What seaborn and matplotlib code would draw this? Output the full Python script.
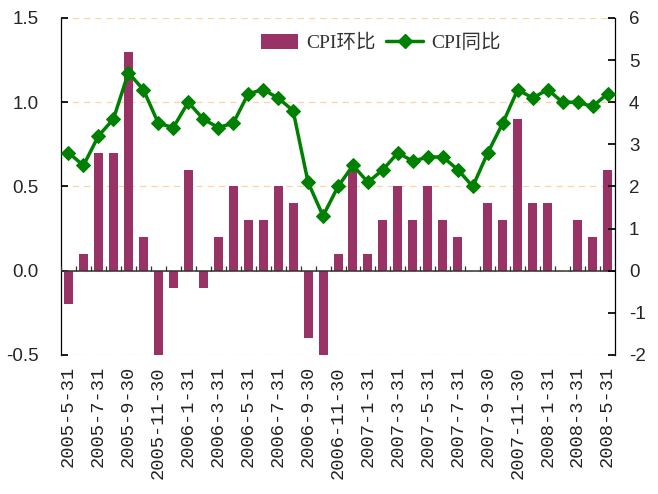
import matplotlib
matplotlib.use('Agg')
import matplotlib.pyplot as plt
import numpy as np
import pandas as pd
import seaborn as sns
from matplotlib.lines import Line2D
from matplotlib.patches import Patch

# 月份: 2005-05 ~ 2008-05 (月末)
months = pd.date_range('2005-05-31', periods=37, freq='ME')

# CPI环比 (左轴, %)
cpi_mom = [-0.2, 0.1, 0.7, 0.7, 1.3, 0.2, -0.5, -0.1,
           0.6, -0.1, 0.2, 0.5, 0.3, 0.3, 0.5, 0.4, -0.4, -0.5, 0.1, 0.6,
           0.1, 0.3, 0.5, 0.3, 0.5, 0.3, 0.2, 0.0, 0.4, 0.3, 0.9, 0.4,
           0.4, 0.0, 0.3, 0.2, 0.6]

# CPI同比 (右轴, %)
cpi_yoy = [2.8, 2.5, 3.2, 3.6, 4.7, 4.3, 3.5, 3.4,
           4.0, 3.6, 3.4, 3.5, 4.2, 4.3, 4.1, 3.8, 2.1, 1.3, 2.0, 2.5,
           2.1, 2.4, 2.8, 2.6, 2.7, 2.7, 2.4, 2.0, 2.8, 3.5, 4.3, 4.1,
           4.3, 4.0, 4.0, 3.9, 4.2]

tick_labels = ['2005-5-31', '2005-7-31', '2005-9-30', '2005-11-30',
               '2006-1-31', '2006-3-31', '2006-5-31', '2006-7-31',
               '2006-9-30', '2006-11-30', '2007-1-31', '2007-3-31',
               '2007-5-31', '2007-7-31', '2007-9-30', '2007-11-30',
               '2008-1-31', '2008-3-31', '2008-5-31']

left_ticks = [-0.5, 0.0, 0.5, 1.0, 1.5]
right_ticks = [-2, -1, 0, 1, 2, 3, 4, 5, 6]

BAR_COLOR = '#993366'
LINE_COLOR = '#008000'

sns.set_theme(style='white')
plt.rcParams['font.family'] = ['Liberation Sans', 'Noto Sans CJK SC']

df = pd.DataFrame({'month': months, 'pos': np.arange(len(months)),
                   'mom': cpi_mom, 'yoy': cpi_yoy})

fig = plt.figure(figsize=(6.58, 4.94), dpi=100)
ax = fig.add_axes([0.0927, 0.2814, 0.8420, 0.6822])

sns.barplot(data=df, x='pos', y='mom', color=BAR_COLOR, width=0.6,
            saturation=1, errorbar=None, linewidth=0, ax=ax, zorder=3)

ax.set_ylim(-0.5, 1.5)
ax.set_xlim(-0.5, len(df) - 0.5)
ax.set_yticks(left_ticks)
ax.set_yticklabels([f'{v:.1f}' for v in left_ticks], fontsize=13.5)
ax.yaxis.grid(True, linestyle=(0, (5, 4)), color='#FFD2A6', linewidth=0.9)
ax.set_axisbelow(True)
ax.axhline(0, color='#333333', linewidth=1.1, zorder=4)
# 零轴上的月份刻度
ax.vlines(df['pos'] - 0.5, 0, 0.03, color='#333333', linewidth=0.9, zorder=4)

ax.set_xticks(df['pos'][::2])
ax.set_xticklabels(tick_labels, rotation=90, fontsize=13.5,
                   family='Liberation Mono', color='#222222')
ax.tick_params(axis='x', length=0, pad=8)
ax.tick_params(axis='y', direction='in', length=5, color='black', pad=16)
ax.set_xlabel('')
ax.set_ylabel('')

for side in ['top', 'bottom', 'right']:
    ax.spines[side].set_visible(False)
ax.spines['left'].set_color('black')
ax.spines['left'].set_linewidth(0.9)

ax2 = ax.twinx()
sns.lineplot(data=df, x='pos', y='yoy', color=LINE_COLOR, marker='D',
             markersize=7.5, markeredgecolor=LINE_COLOR, linewidth=2.5,
             legend=False, ax=ax2, zorder=5)
ax2.set_ylim(-2, 6)
ax2.set_yticks(right_ticks)
ax2.set_yticklabels([str(v) for v in right_ticks], fontsize=13.5)
ax2.tick_params(axis='y', direction='in', length=5, color='black', pad=10)
ax2.set_ylabel('')
ax2.set_xlabel('')
for side in ['top', 'bottom', 'left']:
    ax2.spines[side].set_visible(False)
ax2.spines['right'].set_color('black')
ax2.spines['right'].set_linewidth(0.9)

handles = [Patch(facecolor=BAR_COLOR, edgecolor='none'),
           Line2D([0], [0], color=LINE_COLOR, linewidth=2.5, marker='D',
                  markersize=7)]
leg = ax2.legend(handles, ['CPI环比', 'CPI同比'], loc='center left',
                 bbox_to_anchor=(0.33, 0.925), ncol=2, frameon=False,
                 prop={'family': ['Liberation Serif', 'Noto Sans CJK SC'],
                       'size': 14},
                 handlelength=1.9, handleheight=0.8, columnspacing=0.55,
                 handletextpad=0.4)
for t in leg.get_texts():
    t.set_color('#333333')

fig.savefig('out.png', dpi=100)
